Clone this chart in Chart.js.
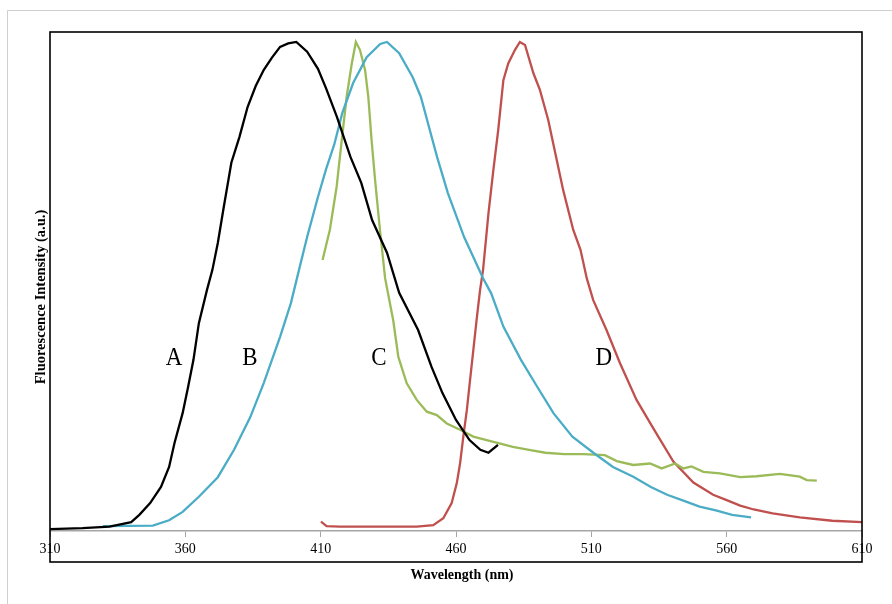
<!DOCTYPE html>
<html>
<head>
<meta charset="utf-8">
<script src="https://cdn.jsdelivr.net/npm/chart.js@4.4.1/dist/chart.umd.min.js"></script>
<style>
  html, body { margin: 0; padding: 0; background: #fff; }
  canvas { display: block; }
</style>
</head>
<body>
<canvas id="spectra" width="892" height="604"></canvas>
<script>
// wavelength (nm) / relative intensity
const wlA = [310, 322, 332, 340, 343, 347, 351, 354, 356, 359, 361, 363, 365, 368, 370, 372, 374, 377, 380, 383, 386, 389, 392, 395, 398, 401, 405, 409, 412, 416, 421, 425, 429, 434.5, 439, 446, 451, 455, 460, 465, 469, 472, 475.5];
const valA = [0.004, 0.006, 0.009, 0.018, 0.033, 0.057, 0.09, 0.131, 0.18, 0.241, 0.294, 0.35, 0.425, 0.493, 0.534, 0.589, 0.656, 0.753, 0.806, 0.867, 0.91, 0.943, 0.968, 0.99, 0.997, 1.0, 0.98, 0.945, 0.905, 0.847, 0.765, 0.712, 0.636, 0.569, 0.487, 0.411, 0.335, 0.282, 0.227, 0.186, 0.166, 0.16, 0.176];

const wlB = [329.6, 348, 354, 359, 365, 372, 378, 384, 389, 395, 399, 402, 405, 409, 412, 415, 418, 422, 427, 432, 434.5, 439, 444, 447, 449, 453, 457, 463, 470, 473, 477.5, 484, 490, 496, 503, 511, 518, 525.5, 532, 538, 544, 550, 556, 562, 569];
const valB = [0.01, 0.011, 0.022, 0.039, 0.07, 0.11, 0.166, 0.233, 0.303, 0.397, 0.466, 0.534, 0.601, 0.683, 0.74, 0.79, 0.855, 0.916, 0.969, 0.996, 1.0, 0.977, 0.928, 0.888, 0.847, 0.765, 0.691, 0.601, 0.517, 0.486, 0.418, 0.35, 0.295, 0.241, 0.193, 0.159, 0.131, 0.111, 0.09, 0.074, 0.062, 0.05, 0.042, 0.033, 0.028];

const wlC = [410.7, 413.4, 415.9, 417.8, 419.6, 421.5, 423, 424.5, 426.4, 427.6, 428.8, 430.1, 431.9, 433.8, 436.8, 438.7, 441.8, 445.5, 449.2, 452.9, 456.6, 461.5, 466.4, 471.3, 476, 481, 487, 493, 500, 507, 515, 519.4, 525.5, 531.7, 536, 541, 544, 547, 551.4, 557.5, 565, 571, 579.7, 587, 589.6, 593.3];
const valC = [0.554, 0.616, 0.704, 0.8, 0.888, 0.956, 1.0, 0.984, 0.943, 0.888, 0.8, 0.718, 0.616, 0.517, 0.431, 0.356, 0.302, 0.268, 0.244, 0.237, 0.22, 0.207, 0.193, 0.186, 0.179, 0.172, 0.166, 0.16, 0.157, 0.157, 0.155, 0.143, 0.135, 0.138, 0.128, 0.138, 0.128, 0.132, 0.121, 0.118, 0.11, 0.112, 0.117, 0.111, 0.104, 0.103];

const wlD = [410.1, 412.2, 417, 445.5, 451.6, 455.3, 458.4, 460.3, 461.5, 462.7, 464, 465.2, 466.4, 467.6, 468.9, 470, 472, 473.8, 475.6, 477.5, 479.3, 481.8, 483.6, 485.5, 488.6, 491, 494.1, 495.9, 499.6, 503.3, 506, 508.3, 510.7, 515.6, 520.6, 526.7, 532.9, 540.3, 547.7, 555, 560, 565, 570, 577, 587, 599, 610];
const valD = [0.019, 0.01, 0.009, 0.009, 0.012, 0.026, 0.057, 0.098, 0.138, 0.193, 0.247, 0.309, 0.37, 0.431, 0.493, 0.534, 0.65, 0.738, 0.82, 0.922, 0.956, 0.984, 1.0, 0.994, 0.936, 0.902, 0.84, 0.793, 0.697, 0.616, 0.575, 0.517, 0.472, 0.411, 0.343, 0.268, 0.21, 0.142, 0.099, 0.074, 0.063, 0.052, 0.044, 0.036, 0.028, 0.021, 0.018];

const xTicks = [310, 360, 410, 460, 510, 560, 610];
const curveNames = ['A', 'B', 'C', 'D'];
const curveColors = ['#000000', '#4bacc6', '#9bbb59', '#c0504d'];

// where the letters sit, in data units
const namePos = [[355.8, 0.354], [383.9, 0.354], [431.5, 0.354], [514.6, 0.354]];

const serif = '"Liberation Serif", "Times New Roman", serif';

function pts(xs, ys) {
  return xs.map((x, i) => ({ x: x, y: ys[i] }));
}

const series = [pts(wlA, valA), pts(wlB, valB), pts(wlC, valC), pts(wlD, valD)];

// text in the original looks a little stretched vertically
function tallText(ctx, txt, x, y, sy) {
  ctx.save();
  ctx.translate(x, y);
  ctx.scale(1, sy);
  ctx.fillText(txt, 0, 0);
  ctx.restore();
}

const decorations = {
  id: 'decorations',
  afterDatasetsDraw(chart) {
    const { ctx, scales } = chart;
    ctx.save();
    ctx.fillStyle = '#000';
    ctx.font = '23px ' + serif;
    ctx.textAlign = 'center';
    ctx.textBaseline = 'middle';
    curveNames.forEach((n, i) => {
      tallText(ctx, n, scales.x.getPixelForValue(namePos[i][0]), scales.y.getPixelForValue(namePos[i][1]), 1.12);
    });
    ctx.restore();
  },
  afterDraw(chart) {
    const { ctx, chartArea: a } = chart;
    ctx.save();
    // light outer border of the figure
    ctx.strokeStyle = '#cfcfcf';
    ctx.lineWidth = 1;
    ctx.beginPath();
    ctx.moveTo(7.5, 604);
    ctx.lineTo(7.5, 10.5);
    ctx.lineTo(892, 10.5);
    ctx.stroke();

    // black frame round plot and tick labels
    ctx.strokeStyle = '#000';
    ctx.lineWidth = 1.6;
    ctx.strokeRect(a.left, a.top, a.right - a.left, a.bottom + 31 - a.top);

    ctx.fillStyle = '#000';
    ctx.font = 'bold 14px ' + serif;
    ctx.textAlign = 'center';
    ctx.textBaseline = 'middle';
    tallText(ctx, 'Wavelength (nm)', (a.left + a.right) / 2 + 6, 575, 1.1);

    ctx.translate(41, 297);
    ctx.rotate(-Math.PI / 2);
    ctx.font = 'bold 14.5px ' + serif;
    ctx.fillText('Fluorescence Intensity (a.u.)', 0, 0);
    ctx.restore();
  }
};

new Chart(document.getElementById('spectra'), {
  type: 'line',
  data: {
    datasets: series.map((d, i) => ({
      label: curveNames[i],
      data: d,
      borderColor: curveColors[i],
      borderWidth: 2.3,
      pointRadius: 0,
      tension: 0,
      fill: false
    }))
  },
  options: {
    responsive: false,
    animation: false,
    layout: { padding: { left: 50, right: 30, top: 32, bottom: 0 } },
    plugins: {
      legend: { display: false },
      tooltip: { enabled: false }
    },
    scales: {
      x: {
        type: 'linear',
        min: 310,
        max: 610,
        afterBuildTicks: (s) => { s.ticks = xTicks.map(v => ({ value: v })); },
        afterFit: (s) => { s.height = 73; },
        border: { color: '#a6a6a6', width: 1.5 },
        grid: { drawOnChartArea: false, drawTicks: true, tickLength: 6, color: '#a6a6a6' },
        ticks: {
          color: '#000',
          padding: 4,
          maxRotation: 0,
          font: { family: serif, size: 14 }
        }
      },
      y: {
        display: false,
        min: 0,
        max: 1.0204
      }
    }
  },
  plugins: [decorations]
});
</script>
</body>
</html>
